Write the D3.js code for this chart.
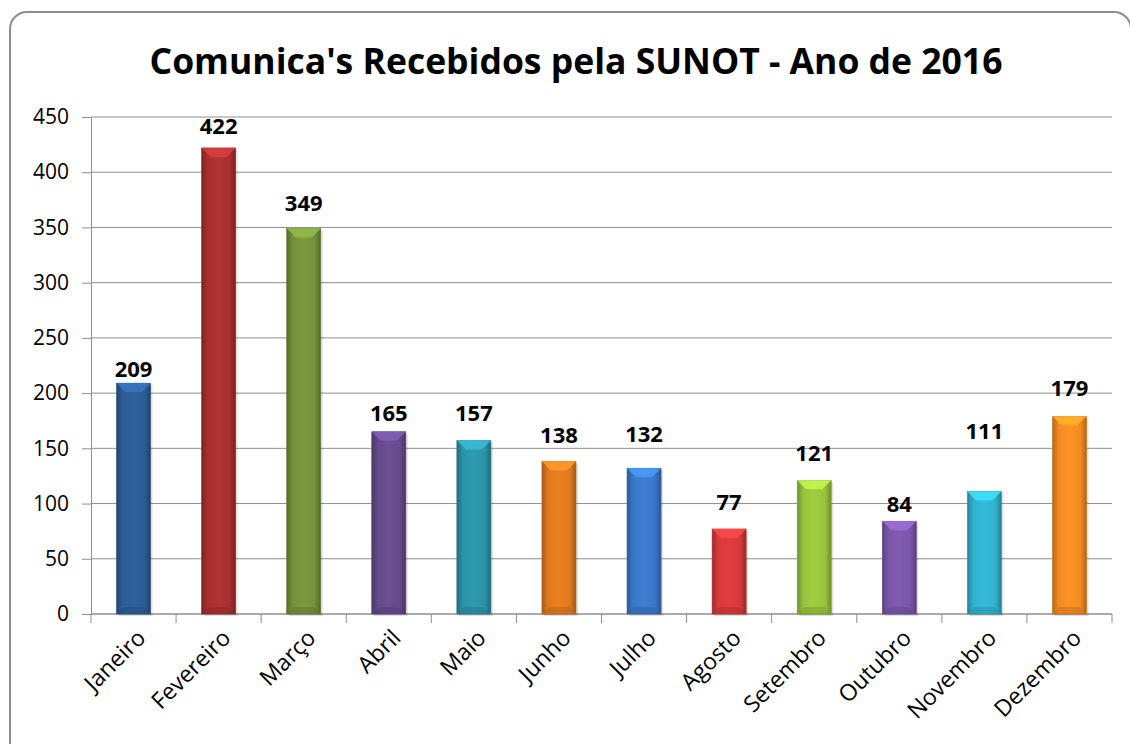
<!DOCTYPE html>
<html>
<head>
<meta charset="utf-8">
<script src="https://cdn.jsdelivr.net/npm/d3@7"></script>
<style>
  body { margin: 0; background: #fff; }
  text { font-family: "Open Sans", sans-serif; }
</style>
</head>
<body>
<script>
// data
const months = ['Janeiro', 'Fevereiro', 'Março', 'Abril', 'Maio', 'Junho',
    'Julho', 'Agosto', 'Setembro', 'Outubro', 'Novembro', 'Dezembro']
const values = [209, 422, 349, 165, 157, 138, 132, 77, 121, 84, 111, 179]
const yTicks = [0, 50, 100, 150, 200, 250, 300, 350, 400, 450]
const barColors = ['#2c5d96', '#a8302f', '#73923a', '#664a8c', '#2b93a8', '#e0791f',
    '#3a78c6', '#d63a3a', '#98c23c', '#7a56a8', '#31b1cf', '#f28b22']
// extra lift of some value labels (px), as placed in the original
const labelLift = [-1, 7, 11, 4, 13, 12, 19, 12, 12, 2, 45, 13]

const m = { width: 1130, height: 744, left: 91, right: 1112, top: 117, bottom: 614 }

const svg = d3.select('body').append('svg')
    .attr('width', m.width)
    .attr('height', m.height)

const defs = svg.append('defs')

// frame
svg.append('rect')
    .attr('x', 10).attr('y', 12)
    .attr('width', 1121).attr('height', 760)
    .attr('rx', 17)
    .attr('fill', '#fff')
    .attr('stroke', '#8c8c8c')
    .attr('stroke-width', 2)

svg.append('text')
    .attr('x', 576)
    .attr('y', 74)
    .attr('text-anchor', 'middle')
    .attr('font-size', 35.5)
    .attr('font-weight', 'bold')
    .attr('fill', '#000')
    .text("Comunica's Recebidos pela SUNOT - Ano de 2016")

const x = d3.scaleBand()
    .domain(months)
    .range([m.left, m.right])
    .paddingInner(0.6)
    .paddingOuter(0.3)

const y = d3.scaleLinear()
    .domain([0, 450])
    .range([m.bottom, m.top])

// gridlines
svg.append('g')
    .selectAll('line')
    .data(yTicks)
    .enter()
    .append('line')
    .attr('x1', m.left)
    .attr('x2', m.right)
    .attr('y1', d => y(d))
    .attr('y2', d => y(d))
    .attr('stroke', '#8e8e8e')
    .attr('stroke-width', 1)

// y axis
const yAxis = svg.append('g')
    .attr('transform', `translate(${m.left},0)`)
    .call(d3.axisLeft(y).tickValues(yTicks).tickSize(9).tickPadding(13))
yAxis.select('.domain').attr('stroke', '#8e8e8e')
yAxis.selectAll('.tick line').attr('stroke', '#8e8e8e')
yAxis.selectAll('text')
    .attr('font-size', 21)
    .attr('fill', '#000')
    .style('font-family', '"Open Sans", sans-serif')

// x axis (ticks at category boundaries)
const step = (m.right - m.left) / months.length
const xAxis = svg.append('g')
svg.append('line')
    .attr('x1', m.left).attr('x2', m.right)
    .attr('y1', m.bottom).attr('y2', m.bottom)
    .attr('stroke', '#8e8e8e')
xAxis.selectAll('line')
    .data(d3.range(months.length + 1))
    .enter()
    .append('line')
    .attr('x1', i => m.left + i * step)
    .attr('x2', i => m.left + i * step)
    .attr('y1', m.bottom)
    .attr('y2', m.bottom + 9)
    .attr('stroke', '#8e8e8e')
xAxis.selectAll('text')
    .data(months)
    .enter()
    .append('text')
    .attr('transform', d => `translate(${x(d) + x.bandwidth() / 2 + 2},${m.bottom + 14}) rotate(-45)`)
    .attr('text-anchor', 'end')
    .attr('dy', '0.7em')
    .attr('font-size', 23)
    .attr('fill', '#000')
    .text(d => d)

// bar gradients
barColors.forEach(function (c, i) {
    const base = d3.color(c)
    const g = defs.append('linearGradient')
        .attr('id', 'grad' + i)
        .attr('x1', 0).attr('x2', 1).attr('y1', 0).attr('y2', 0)
    g.append('stop').attr('offset', '0%').attr('stop-color', base.darker(0.8))
    g.append('stop').attr('offset', '18%').attr('stop-color', base)
    g.append('stop').attr('offset', '50%').attr('stop-color', base.brighter(0.15))
    g.append('stop').attr('offset', '82%').attr('stop-color', base)
    g.append('stop').attr('offset', '100%').attr('stop-color', base.darker(0.9))
})

const bars = svg.append('g')
    .selectAll('g')
    .data(values)
    .enter()
    .append('g')

// soft shadow
bars.append('rect')
    .attr('x', (d, i) => x(months[i]) + 2)
    .attr('y', d => y(d) + 2)
    .attr('width', x.bandwidth())
    .attr('height', d => m.bottom - y(d))
    .attr('fill', '#000')
    .attr('opacity', 0.12)

bars.append('rect')
    .attr('x', (d, i) => x(months[i]))
    .attr('y', d => y(d))
    .attr('width', x.bandwidth())
    .attr('height', d => m.bottom - y(d))
    .attr('fill', (d, i) => `url(#grad${i})`)
    .attr('stroke', (d, i) => d3.color(barColors[i]).darker(0.6))
    .attr('stroke-width', 0.6)

// top bevel
bars.append('path')
    .attr('d', function (d, i) {
        const x0 = x(months[i]), w = x.bandwidth(), t = y(d), b = 9
        return `M${x0},${t}L${x0 + w},${t}L${x0 + w - b},${t + b}L${x0 + b},${t + b}Z`
    })
    .attr('fill', (d, i) => d3.color(barColors[i]).brighter(0.7))
    .attr('opacity', 0.85)

// bottom bevel
bars.append('path')
    .attr('d', function (d, i) {
        const x0 = x(months[i]), w = x.bandwidth(), b = 7
        return `M${x0},${m.bottom}L${x0 + w},${m.bottom}L${x0 + w - b},${m.bottom - b}L${x0 + b},${m.bottom - b}Z`
    })
    .attr('fill', (d, i) => d3.color(barColors[i]).darker(0.5))
    .attr('opacity', 0.6)

// value labels
bars.append('text')
    .attr('x', (d, i) => x(months[i]) + x.bandwidth() / 2)
    .attr('y', (d, i) => y(d) - 7 - labelLift[i])
    .attr('text-anchor', 'middle')
    .attr('font-size', 22)
    .attr('font-weight', 'bold')
    .attr('fill', '#000')
    .text(d => d)
</script>
</body>
</html>
